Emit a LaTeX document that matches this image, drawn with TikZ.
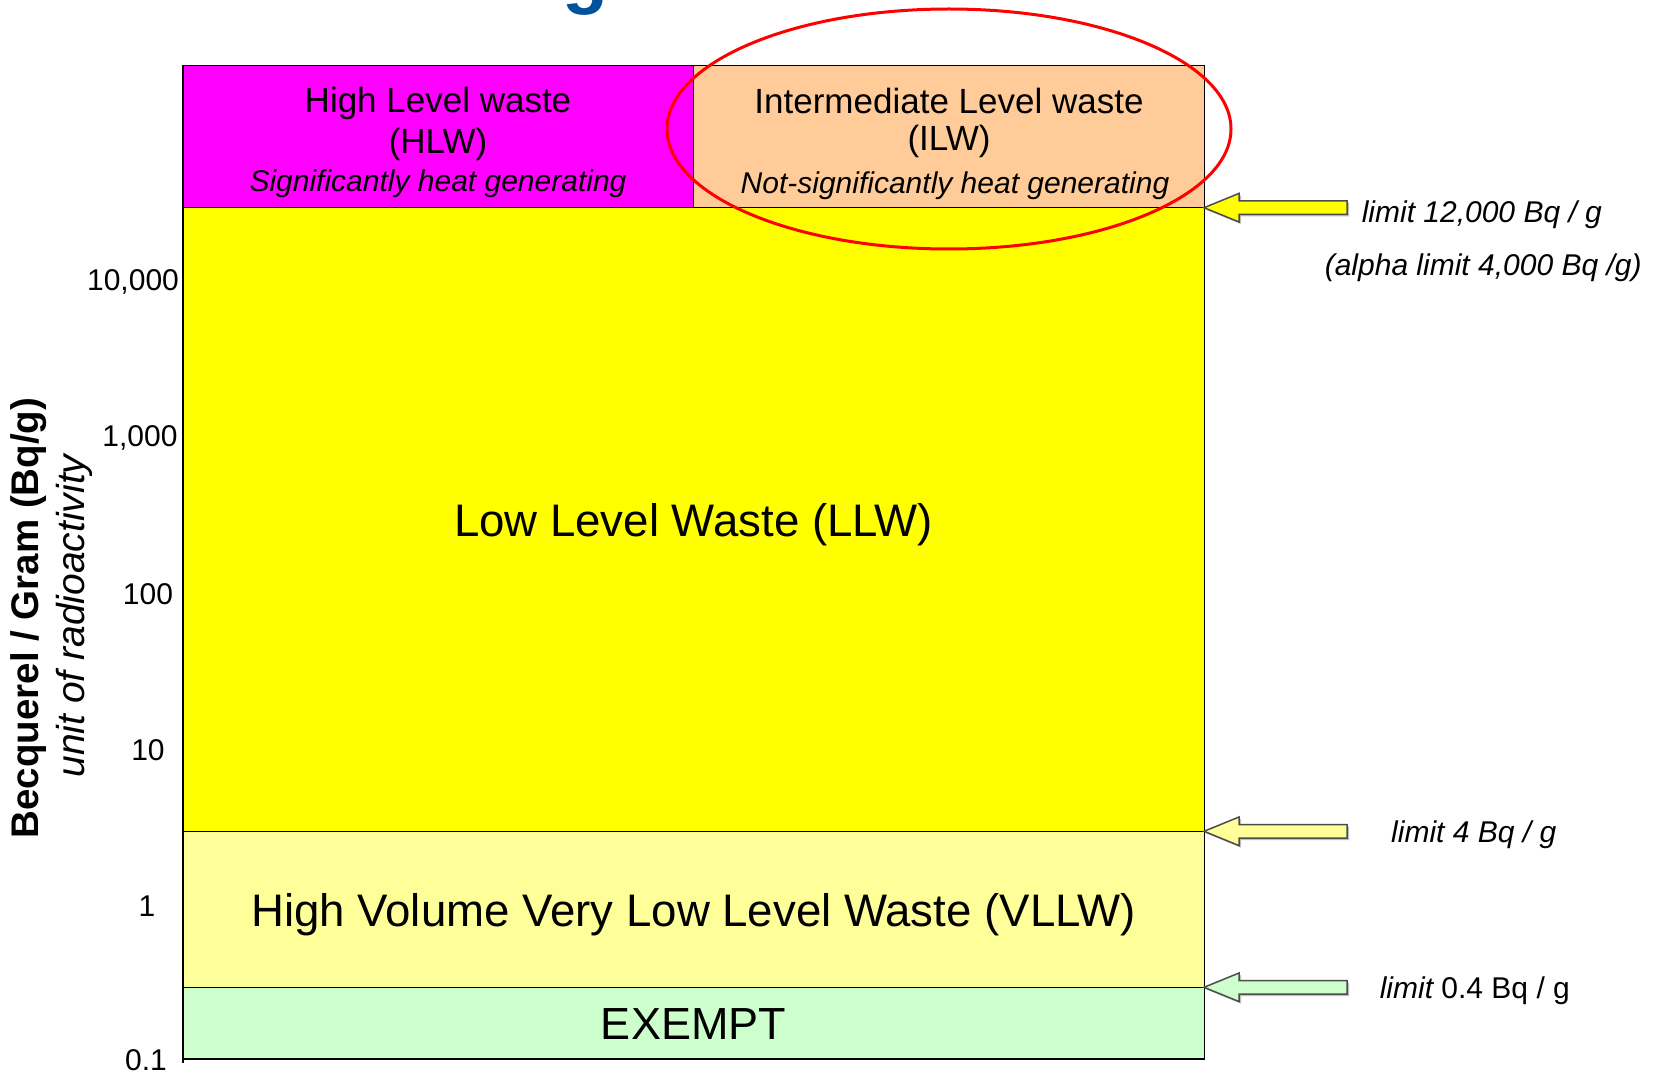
\documentclass[tikz,border=0pt]{standalone}
\usepackage{fontspec}
\setmainfont{Liberation Sans}
\definecolor{titleblue}{HTML}{00529B}
\definecolor{hlwcol}{HTML}{FF00FF}
\definecolor{ilwcol}{HTML}{FFCC99}
\definecolor{llwcol}{HTML}{FFFF00}
\definecolor{vllwcol}{HTML}{FFFF99}
\definecolor{exemptcol}{HTML}{CCFFCC}
\definecolor{ringred}{HTML}{FF0000}
\newcommand\fs[1]{\fontsize{#1}{#1}\selectfont}
\newcommand\blkarrow[2]{%
  \fill[black!25, shift={(2,#1+2)}] (1204,0) -- (1239,-14.3) -- (1239,-6.8) -- (1347,-6.8) -- (1347,6.8) -- (1239,6.8) -- (1239,14.3) -- cycle;
  \draw[arrowline, fill=#2, shift={(0,#1)}] (1204,0) -- (1239,-14.3) -- (1239,-6.8) -- (1347,-6.8) -- (1347,6.8) -- (1239,6.8) -- (1239,14.3) -- cycle;}
\begin{document}
\begin{tikzpicture}[x=1pt,y=-1pt,
  band/.style={draw=black, line width=1.5pt},
  arrowline/.style={draw=black!70, line width=1.5pt, line join=miter},
  lbl/.style={inner sep=0pt, text=black},
  tick/.style={inner sep=0pt, font=\fs{30}},
  rlab/.style={inner sep=0pt, anchor=west, font=\fs{30}\itshape}]
\useasboundingbox (0,0) rectangle (1655,1078);
\fill[white] (0,0) rectangle (1655,1078);
\begin{scope}
  \clip (0,0) rectangle (1655,1078);
  \node[anchor=base west, inner sep=0pt, text=titleblue, font=\fs{75}\bfseries] (title) at (562,0) {g};
\end{scope}
% bands
\draw[band, fill=hlwcol] (183,65.7) rectangle (693.7,207.7);
\draw[band, fill=ilwcol] (693.7,65.7) rectangle (1204.3,207.7);
\draw[band, fill=llwcol] (183,207.7) rectangle (1204.3,831.3);
\draw[band, fill=vllwcol] (183,831.3) rectangle (1204.3,987.3);
\draw[band, fill=exemptcol] (183,987.3) rectangle (1204.3,1059);
\draw[band] (183,1059) -- (183,1063);
% band texts
\node[lbl, font=\fs{35}] (hlw1) at (438,103.5) {High Level waste};
\node[lbl, font=\fs{35}] (hlw2) at (438,144.5) {(HLW)};
\node[lbl, font=\fs{30}\itshape] (hlw3) at (438,183.5) {Significantly heat generating};
\node[lbl, font=\fs{35}] (ilw1) at (949,100.5) {Intermediate Level waste};
\node[lbl, font=\fs{35}] (ilw2) at (949,141.5) {(ILW)};
\node[lbl, font=\fs{30}\itshape] (ilw3) at (955,186) {Not-significantly heat generating};
\node[lbl, font=\fs{45.6}] (llw) at (693.5,525) {Low Level Waste (LLW)};
\node[lbl, font=\fs{45.6}] (vllw) at (693.5,914.5) {High Volume Very Low Level Waste (VLLW)};
\node[lbl, font=\fs{45}] (exempt) at (693.5,1024) {EXEMPT};
% red ring
\draw[ringred, line width=3pt] (949,129) ellipse [x radius=282, y radius=120];
% arrows
\blkarrow{207.7}{llwcol}
\blkarrow{831.3}{vllwcol}
\blkarrow{987.3}{exemptcol}
\node[rlab] (lim1) at (1361.6,214.5) {limit 12,000 Bq / g};
\node[rlab] (lim1a) at (1324.6,267.5) {(alpha limit 4,000 Bq /g)};
\node[rlab] (lim2) at (1391,834.5) {limit 4 Bq / g};
\node[rlab, font=\fs{30}] (lim3) at (1379.6,990.5) {\itshape limit\upshape{} 0.4 Bq / g};
% axis ticks
\node[tick] (t4) at (133,282) {10,000};
\node[tick] (t3) at (140,438) {1,000};
\node[tick] (t2) at (148,594) {100};
\node[tick] (t1) at (148,750) {10};
\node[tick] (t0) at (147,906) {1};
\node[tick] (tm) at (146,1060) {0.1};
% axis titles
\node[inner sep=0pt, rotate=90, font=\fs{38.5}\bfseries] (ylab) at (28.5,618) {Becquerel / Gram (Bq/g)};
\node[inner sep=0pt, rotate=90, font=\fs{39}\itshape] (yunit) at (74,616) {unit of radioactivity};
\end{tikzpicture}
\end{document}
